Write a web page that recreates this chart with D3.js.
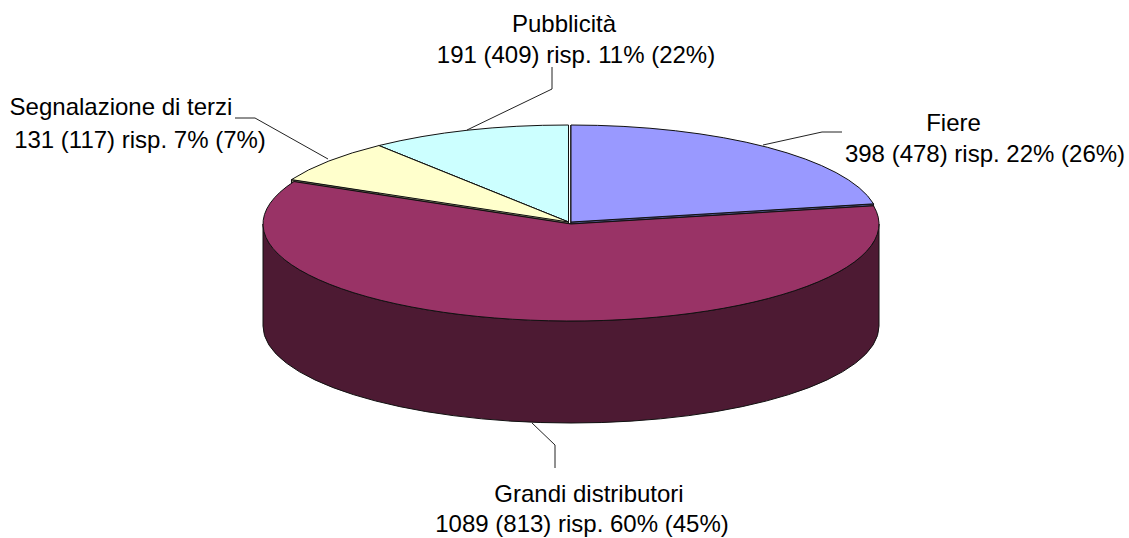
<!DOCTYPE html>
<html>
<head>
<meta charset="utf-8">
<script src="https://cdn.jsdelivr.net/npm/d3@7"></script>
<style>
    html, body { margin: 0; background: #fff; }
    text { font-family: "Liberation Sans", Arial, sans-serif; font-size: 24px; fill: #000; text-anchor: middle; }
    .leader { fill: none; stroke: #222; stroke-width: 1; }
    .slice { stroke: #111; stroke-width: 1; stroke-linejoin: round; }
</style>
</head>
<body>
<svg id="chart" width="1129" height="538"></svg>
<script>
// values in drawing order of the pie, clockwise from 12 o'clock
const categories = ['Fiere', 'Grandi distributori', 'Segnalazione di terzi', 'Pubblicità'];
const values = [398, 1089, 131, 191];
const details = [
    '398 (478) risp. 22% (26%)',
    '1089 (813) risp. 60% (45%)',
    '131 (117) risp. 7% (7%)',
    '191 (409) risp. 11% (22%)'
];
const topColors = ['#9999ff', '#993366', '#ffffcc', '#ccffff'];
const sideColors = ['#4d4d80', '#4d1a33', '#808066', '#668080'];

// pie centre for each slice, the slices are pulled apart a little
const rx = 308, ry = 97, depth = 102;
const centers = [[571, 222], [571, 224], [568.5, 222], [568.5, 222]];
// each label has its two lines placed on their own, as in the original
const namePos = [[953.5, 131], [589, 502], [121, 115], [564, 32]];
const detailPos = [[985, 162], [582, 532], [140, 148], [576, 63]];
const leaders = [
    [[763, 145], [822, 132], [842, 132]],
    [[532, 423], [555, 445], [555, 468]],
    [[328, 159], [255, 118], [235, 118]],
    [[467, 130], [552, 89], [552, 67]]
];

const svg = d3.select('#chart');
const pie = d3.pie().sort(null).value(d => d);
const arcs = pie(values);

function rim(c, a, dy) {
    return [c[0] + rx * Math.sin(a), c[1] - ry * Math.cos(a) + (dy || 0)];
}
function arcTo(c, a0, a1, dy) {
    const p = rim(c, a1, dy);
    const large = Math.abs(a1 - a0) > Math.PI ? 1 : 0;
    return 'A' + rx + ',' + ry + ' 0 ' + large + ' ' + (a1 > a0 ? 1 : 0) + ' ' + p[0] + ',' + p[1];
}
function topPath(c, d) {
    return 'M' + c + 'L' + rim(c, d.startAngle) + arcTo(c, d.startAngle, d.endAngle) + 'Z';
}
// outer wall, only the part that faces the viewer
function wallPath(c, d) {
    const a0 = Math.max(d.startAngle, Math.PI / 2), a1 = Math.min(d.endAngle, Math.PI * 1.5);
    if (a0 >= a1) return null;
    return 'M' + rim(c, a0) + arcTo(c, a0, a1) + 'L' + rim(c, a1, depth) + arcTo(c, a1, a0, depth) + 'Z';
}
// cut face along one radius
function facePath(c, a) {
    const p = rim(c, a);
    return 'M' + c + 'L' + p + 'L' + [p[0], p[1] + depth] + 'L' + [c[0], c[1] + depth] + 'Z';
}

// back slices first, the big front one covers their walls
const order = [3, 2, 0, 1];
const plot = svg.append('g');
order.forEach(i => {
    const d = arcs[i], c = centers[i];
    const g = plot.append('g');
    const wall = wallPath(c, d);
    [d.startAngle, d.endAngle].forEach(a => {
        g.append('path').attr('class', 'slice').attr('d', facePath(c, a)).attr('fill', sideColors[i]);
    });
    if (wall) g.append('path').attr('class', 'slice').attr('d', wall).attr('fill', sideColors[i]);
    g.append('path').attr('class', 'slice').attr('d', topPath(c, d)).attr('fill', topColors[i]);
});

const line = d3.line();
svg.selectAll('.leader').data(leaders).join('path')
    .attr('class', 'leader')
    .attr('d', line);

svg.selectAll('.name').data(categories).join('text')
    .attr('class', 'name')
    .attr('x', (d, i) => namePos[i][0])
    .attr('y', (d, i) => namePos[i][1])
    .text(d => d);
svg.selectAll('.detail').data(details).join('text')
    .attr('class', 'detail')
    .attr('x', (d, i) => detailPos[i][0])
    .attr('y', (d, i) => detailPos[i][1])
    .text(d => d);
</script>
</body>
</html>
